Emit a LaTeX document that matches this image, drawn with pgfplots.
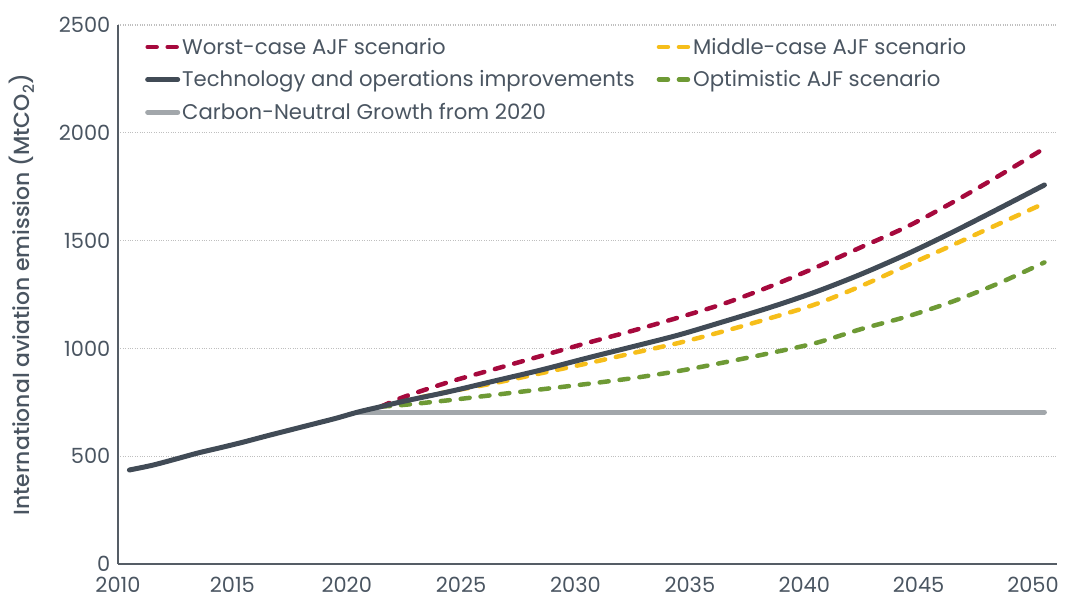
\documentclass[border=0pt]{standalone}
\usepackage{pgfplots}
\pgfplotsset{compat=1.18}
\usepackage{fontspec}
\setmainfont{Poppins}
\newfontfamily\medfont{Poppins Medium}
\definecolor{txt}{HTML}{4A5561}
\definecolor{axc}{HTML}{555D66}
\definecolor{worst}{HTML}{A6093D}
\definecolor{tech}{HTML}{414B56}
\definecolor{mid}{HTML}{F6BE1A}
\definecolor{opt}{HTML}{6E9A35}
\definecolor{cng}{HTML}{A2A7AB}
\begin{document}
\begin{tikzpicture}
\path[use as bounding box] (0,0) rectangle (1065bp,600bp);
\begin{axis}[
  at={(118bp,36bp)}, anchor=south west,
  scale only axis, width=939bp, height=539bp,
  xmin=2010, xmax=2051.05, ymin=0, ymax=2500,
  axis x line=bottom, axis y line=left,
  axis line style={-, draw=axc, line width=1.2bp},
  xtick={2010,2015,...,2050}, ytick={0,500,...,2500},
  /pgf/number format/1000 sep={},
  /pgf/number format/assume math mode=true,
  tick style={draw=none},
  ticklabel style={font=\fontsize{21}{25}\selectfont, text=txt},
  yticklabel style={xshift=-2bp},
  xticklabel style={yshift=-10bp, inner sep=1bp},
  ymajorgrids, grid style={draw=gray!50, dotted, line width=1.2bp},
  ylabel={International aviation emission (MtCO\textsubscript{2})},
  ylabel style={font=\medfont\fontsize{22}{26}\selectfont, text=txt},
  ylabel shift=18bp,
  legend columns=2,
  legend cell align=left,
  legend style={at={(24bp,530bp)}, anchor=north west, draw=none, fill=none,
    font=\fontsize{21.3}{25}\selectfont, text=txt, row sep=11bp,
    /tikz/every even column/.append style={column sep=20bp}},
  legend image code/.code={\draw[#1] (0bp,0bp) -- (30bp,0bp);},
  every axis plot/.append style={line cap=round, line join=round},
  dashed/.style={dash pattern=on 9bp off 11bp},
]
\addlegendimage{worst, line width=4.5bp, dashed}
\addlegendentry{Worst-case AJF scenario}
\addlegendimage{mid, line width=4.5bp, dashed}
\addlegendentry{Middle-case AJF scenario}
\addlegendimage{tech, line width=5bp}
\addlegendentry{Technology and operations improvements}
\addlegendimage{opt, line width=4.5bp, dashed}
\addlegendentry{Optimistic AJF scenario}
\addlegendimage{cng, line width=5bp}
\addlegendentry{Carbon-Neutral Growth from 2020}

% Carbon-neutral growth
\addplot[cng, line width=5bp, forget plot] coordinates {(2020.5,705) (2050.5,705)};
% Optimistic
\addplot[opt, line width=4.5bp, dashed, smooth, forget plot] coordinates {
(2021.5,730) (2022.5,738) (2024.5,760) (2026.5,785) (2028.5,810) (2030.5,835) (2032.5,862)
(2034.5,895) (2036.5,935) (2038.5,978) (2040.5,1025) (2042.5,1090) (2044.5,1148)
(2046.5,1218) (2048.5,1302) (2050.5,1399)};
% Middle
\addplot[mid, line width=4.5bp, dashed, smooth, forget plot] coordinates {
(2021.5,730) (2022.5,757) (2024.5,800) (2026.5,840) (2028.5,885) (2030.5,930) (2032.5,978)
(2034.5,1025) (2036.5,1080) (2038.5,1140) (2040.5,1205) (2042.5,1290) (2044.5,1385)
(2046.5,1480) (2048.5,1577) (2050.5,1673)};
% Worst
\addplot[worst, line width=4.5bp, dashed, smooth, forget plot] coordinates {
(2021.5,730) (2022.5,775) (2024.5,845) (2026.5,905) (2028.5,965) (2030.5,1025) (2032.5,1082)
(2034.5,1143) (2036.5,1208) (2038.5,1287) (2040.5,1375) (2042.5,1470) (2044.5,1565)
(2046.5,1678) (2048.5,1800) (2050.5,1928)};
% Technology
\addplot[tech, line width=5bp, smooth, forget plot] coordinates {
(2010.5,436) (2011.5,458) (2012.5,486) (2013.5,515) (2014.5,540) (2015.5,566) (2016.5,594)
(2017.5,621) (2018.5,648) (2019.5,675) (2020.5,705) (2021.5,730) (2022.5,755) (2024.5,800)
(2026.5,850) (2028.5,900) (2030.5,955) (2032.5,1008) (2034.5,1062) (2036.5,1125)
(2038.5,1190) (2040.5,1262) (2042.5,1345) (2044.5,1438) (2046.5,1540) (2048.5,1648)
(2050.5,1758)};
\end{axis}
\end{tikzpicture}
\end{document}
